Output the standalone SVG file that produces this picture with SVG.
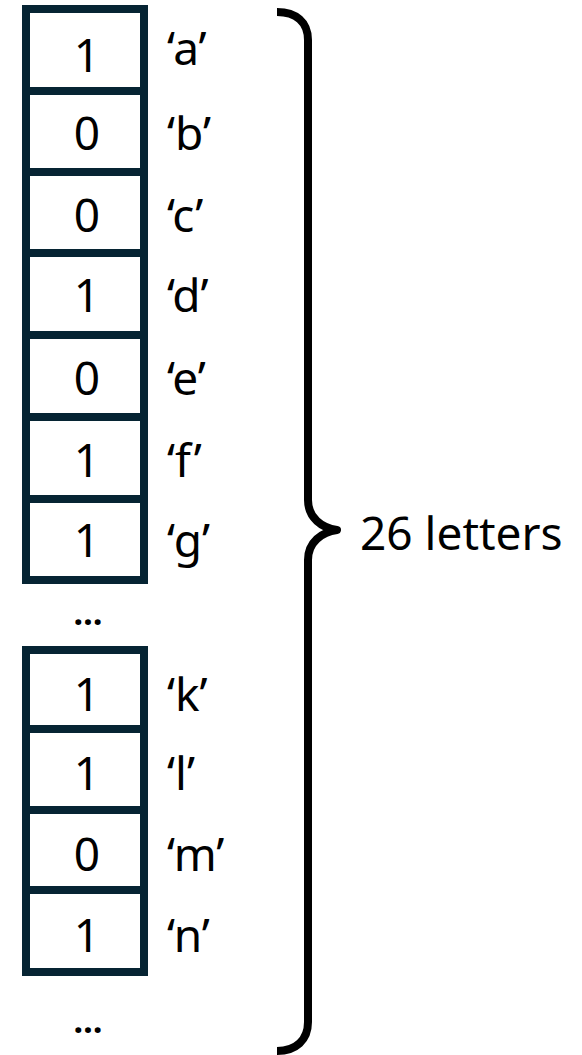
<svg xmlns="http://www.w3.org/2000/svg" width="582" height="1055" viewBox="0 0 582 1055">
<style>
.cell{fill:#ffffff;stroke:#062433;stroke-width:8}
.t{font-family:"Noto Sans",sans-serif;font-size:46px;fill:#000000}
.num{text-anchor:middle}
.dots{font-family:"Noto Sans",sans-serif;font-size:34px;font-weight:bold;fill:#000000;text-anchor:middle}
.brace{fill:none;stroke:#000000;stroke-width:8;stroke-linecap:butt;stroke-linejoin:round}
</style>
<rect width="582" height="1055" fill="#ffffff"/>
<g id="cell-a"><rect class="cell" x="26" y="9" width="118" height="82"/><text class="t num" x="87" y="72">1</text><text class="t" x="167" y="65">‘a’</text></g>
<g id="cell-b"><rect class="cell" x="26" y="91" width="118" height="81"/><text class="t num" x="87" y="150">0</text><text class="t" x="167" y="150">‘b’</text></g>
<g id="cell-c"><rect class="cell" x="26" y="172" width="118" height="81"/><text class="t num" x="87" y="232">0</text><text class="t" x="167" y="232">‘c’</text></g>
<g id="cell-d"><rect class="cell" x="26" y="253" width="118" height="82"/><text class="t num" x="87" y="312">1</text><text class="t" x="167" y="312">‘d’</text></g>
<g id="cell-e"><rect class="cell" x="26" y="335" width="118" height="82"/><text class="t num" x="87" y="395">0</text><text class="t" x="167" y="395">‘e’</text></g>
<g id="cell-f"><rect class="cell" x="26" y="417" width="118" height="82"/><text class="t num" x="87" y="477">1</text><text class="t" x="167" y="477">‘f’</text></g>
<g id="cell-g"><rect class="cell" x="26" y="499" width="118" height="81"/><text class="t num" x="87" y="557">1</text><text class="t" x="167" y="557">‘g’</text></g>
<g id="ellipsis-1"><text class="dots" x="88" y="625">…</text></g>
<g id="cell-k"><rect class="cell" x="26" y="650" width="118" height="79"/><text class="t num" x="87" y="711">1</text><text class="t" x="167" y="711">‘k’</text></g>
<g id="cell-l"><rect class="cell" x="26" y="729" width="118" height="81"/><text class="t num" x="87" y="790">1</text><text class="t" x="167" y="790">‘l’</text></g>
<g id="cell-m"><rect class="cell" x="26" y="810" width="118" height="80"/><text class="t num" x="87" y="871">0</text><text class="t" x="167" y="871">‘m’</text></g>
<g id="cell-n"><rect class="cell" x="26" y="890" width="118" height="82"/><text class="t num" x="87" y="952">1</text><text class="t" x="167" y="952">‘n’</text></g>
<g id="ellipsis-2"><text class="dots" x="88" y="1033">…</text></g>
<g id="connectors">
<path class="brace" d="M277,12 C296,12 308,22 308,40 L308,500 C308,518 322,528 337,530 C322,532 308,542 308,560 L308,1022 C308,1040 296,1051 277,1051"/>
</g>
<g id="label-26"><text class="t" x="360" y="550">26 letters</text></g>
</svg>
